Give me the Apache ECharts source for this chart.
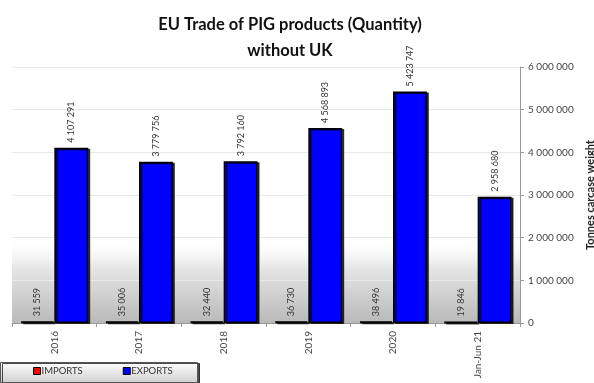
<!DOCTYPE html>
<html>
<head>
<meta charset="utf-8">
<script src="https://cdn.jsdelivr.net/npm/echarts@6/dist/echarts.min.js"></script>
<style>
  html, body { margin: 0; padding: 0; background: #fff; }
  #chart { width: 594px; height: 383px; }
</style>
</head>
<body>
<div id="chart"></div>
<script>
// Categories and yearly quantities (tonnes carcase weight)
const categories = ['2016', '2017', '2018', '2019', '2020', 'Jan-Jun 21'];
const imports = [31559, 35006, 32440, 36730, 38496, 19846];
const exports = [4107291, 3779756, 3792160, 4568893, 5423747, 2958680];
const yTicks = { min: 0, max: 6000000, interval: 1000000 };

// "4 107 291" style thousands separator
function fmt(v) {
  return String(Math.round(v)).replace(/\B(?=(\d{3})+(?!\d))/g, ' ');
}

const FONT = 'Lato, "Open Sans", sans-serif';
const chart = echarts.init(document.getElementById('chart'));

const barStyle = (color, bw) => ({
  color: color,
  borderColor: '#000',
  borderWidth: bw,
  shadowColor: 'rgba(0,0,0,0.75)',
  shadowOffsetX: 2,
  shadowOffsetY: 1,
  shadowBlur: 0
});

const valueLabel = {
  show: true,
  position: 'top',
  rotate: 90,
  align: 'left',
  verticalAlign: 'middle',
  distance: 5,
  color: '#333',
  fontSize: 9,
  fontFamily: FONT,
  formatter: (p) => fmt(p.value)
};

chart.setOption({
  animation: false,
  title: {
    text: 'EU Trade of PIG products (Quantity)\nwithout UK',
    left: 285,
    textAlign: 'center',
    top: 7,
    textStyle: {
      fontFamily: FONT,
      fontWeight: 'bold',
      fontSize: 16.5,
      lineHeight: 26,
      color: '#111'
    }
  },
  graphic: [{
    type: 'rect',
    left: 0,
    top: 362,
    shape: { width: 197, height: 20 },
    style: {
      fill: new echarts.graphic.LinearGradient(0, 0, 0, 1, [
        { offset: 0, color: '#ffffff' },
        { offset: 1, color: '#cfcfcf' }
      ]),
      stroke: '#555',
      lineWidth: 1,
      shadowColor: 'rgba(0,0,0,0.7)',
      shadowOffsetX: 2,
      shadowOffsetY: 1
    },
    z: 0
  }],
  legend: {
    left: 33,
    top: 366,
    itemWidth: 7,
    itemHeight: 7,
    itemGap: 40,
    icon: 'rect',
    padding: 0,
    textStyle: { fontFamily: FONT, fontSize: 9.5, color: '#333', padding: [0, 0, 0, -4] },
    data: [
      { name: 'IMPORTS', itemStyle: { color: '#ff0000', borderColor: '#000', borderWidth: 1 } },
      { name: 'EXPORTS', itemStyle: { color: '#0000ff', borderColor: '#000', borderWidth: 1 } }
    ],
    z: 5
  },
  grid: { left: 12, right: 74, top: 67, bottom: 60, outerBoundsMode: 'none', containLabel: false },
  xAxis: {
    type: 'category',
    data: categories,
    axisLine: { show: true, lineStyle: { color: '#999' } },
    axisTick: { show: true, length: 4, lineStyle: { color: '#999' } },
    axisLabel: {
      rotate: 90,
      fontFamily: FONT,
      fontSize: 10,
      color: '#444',
      margin: 8
    }
  },
  yAxis: {
    type: 'value',
    position: 'right',
    min: yTicks.min,
    max: yTicks.max,
    interval: yTicks.interval,
    name: 'Tonnes carcase weight',
    nameLocation: 'middle',
    nameRotate: 90,
    nameGap: 60,
    nameTextStyle: { fontFamily: FONT, fontWeight: 'bold', fontSize: 11, color: '#222' },
    axisLine: { show: true, lineStyle: { color: '#999' } },
    axisTick: { show: true, length: 4, lineStyle: { color: '#999' } },
    axisLabel: {
      fontFamily: FONT,
      fontSize: 10,
      color: '#444',
      margin: 8,
      formatter: (v) => fmt(v)
    },
    splitLine: { show: true, lineStyle: { color: '#e8e8e8', width: 1 } }
  },
  series: [
    {
      name: 'IMPORTS',
      type: 'bar',
      data: imports,
      barGap: '0%',
      barCategoryGap: '20%',
      itemStyle: barStyle('#ff0000', 2),
      label: valueLabel,
      markArea: {
        silent: true,
        z: -1,
        itemStyle: {
          color: new echarts.graphic.LinearGradient(0, 0, 0, 1, [
            { offset: 0, color: 'rgba(255,255,255,0)' },
            { offset: 0.35, color: '#e6e6e6' },
            { offset: 1, color: '#b9b9b9' }
          ])
        },
        data: [[{ yAxis: 0 }, { yAxis: 2000000 }]]
      }
    },
    {
      name: 'EXPORTS',
      type: 'bar',
      data: exports,
      barGap: '0%',
      barCategoryGap: '20%',
      itemStyle: barStyle('#0000ff', 1.5),
      label: valueLabel
    }
  ]
});
</script>
</body>
</html>
